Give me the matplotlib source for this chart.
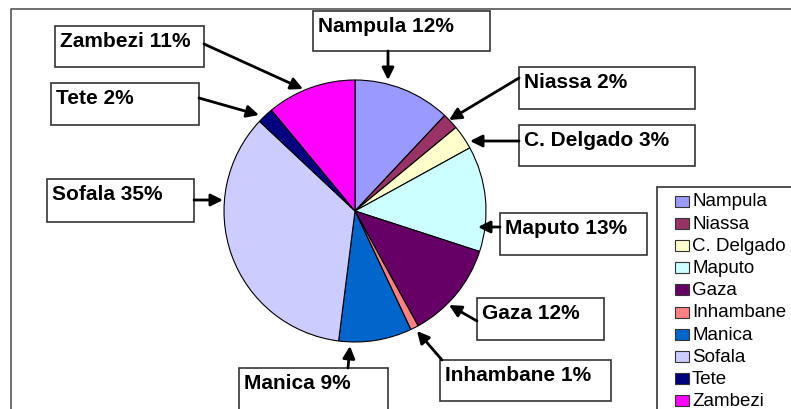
import matplotlib.pyplot as plt
from matplotlib.patches import Rectangle, FancyArrowPatch

plt.rcParams['font.family'] = ['Liberation Sans', 'DejaVu Sans']

# provinces, in pie order (clockwise from 12 o'clock)
provinces = ['Nampula', 'Niassa', 'C. Delgado', 'Maputo', 'Gaza',
             'Inhambane', 'Manica', 'Sofala', 'Tete', 'Zambezi']
shares = [12, 2, 3, 13, 12, 1, 9, 35, 2, 11]
colors = ['#9999FF', '#993366', '#FFFFCC', '#CCFFFF', '#660066',
          '#FF8080', '#0066CC', '#CCCCFF', '#000080', '#FF00FF']

W, H = 791, 410
fig = plt.figure(figsize=(W / 100, H / 100), dpi=100)

# pie axes, placed in pixels
cx, cy, r = 355, 212, 131
ax = fig.add_axes([(cx - r) / W, (H - cy - r) / H, 2 * r / W, 2 * r / H])
ax.pie(shares, colors=colors, startangle=90, counterclock=False,
       wedgeprops=dict(edgecolor='black', linewidth=0.8))
ax.set_aspect('equal')
ax.set_xlim(-1, 1)
ax.set_ylim(-1, 1)

# overlay in pixel coordinates for boxes, arrows, legend
ov = fig.add_axes([0, 0, 1, 1], zorder=5)
ov.set_xlim(0, W)
ov.set_ylim(H, 0)
ov.axis('off')
ov.patch.set_alpha(0)

# chart frame (left and top visible)
ov.plot([11, 11, W], [H, 10, 10], color='#555555', lw=1.2)

# label boxes: (x0, y0, x1, y1), arrow start, arrow tip
boxes = {
    'Nampula':    ((313, 12, 490, 52), (388, 52), (388, 81)),
    'Niassa':     ((519, 68, 695, 110), (519, 79), (449, 121)),
    'C. Delgado': ((519, 126, 695, 167), (519, 142), (470, 142)),
    'Maputo':     ((500, 214, 647, 256), (500, 228), (478, 228)),
    'Gaza':       ((477, 299, 604, 341), (477, 322), (449, 306)),
    'Inhambane':  ((440, 361, 611, 402), (442, 361), (417, 332)),
    'Manica':     ((239, 369, 388, 420), (348, 369), (350, 347)),
    'Sofala':     ((47, 180, 194, 223), (194, 201), (223, 201)),
    'Tete':       ((51, 84, 199, 126), (199, 99), (259, 116)),
    'Zambezi':    ((55, 27, 204, 68), (204, 45), (303, 90)),
}

for name, pct in zip(provinces, shares):
    (x0, y0, x1, y1), start, tip = boxes[name]
    ov.add_patch(Rectangle((x0, y0), x1 - x0, y1 - y0, facecolor='white',
                           edgecolor='#333333', lw=1.2))
    ov.text(x0 + 5, y0 + 20, f'{name} {pct}%', fontsize=15,
            fontweight='bold', va='baseline', ha='left')
    ov.add_patch(FancyArrowPatch(start, tip, arrowstyle='-|>',
                                 mutation_scale=18, lw=2, color='black',
                                 shrinkA=0, shrinkB=0))

# legend drawn by hand
lx, ly = 657, 188
ov.add_patch(Rectangle((lx, ly), 150, 240, facecolor='white',
                       edgecolor='#333333', lw=1.2))
for i, (name, c) in enumerate(zip(provinces, colors)):
    yy = 202 + i * 22.2
    ov.add_patch(Rectangle((675, yy - 5.5), 14, 11, facecolor=c,
                           edgecolor='#333333', lw=0.8))
    ov.text(692, yy, name, fontsize=13.5, va='center', ha='left')

fig.savefig('out.png', dpi=100)
